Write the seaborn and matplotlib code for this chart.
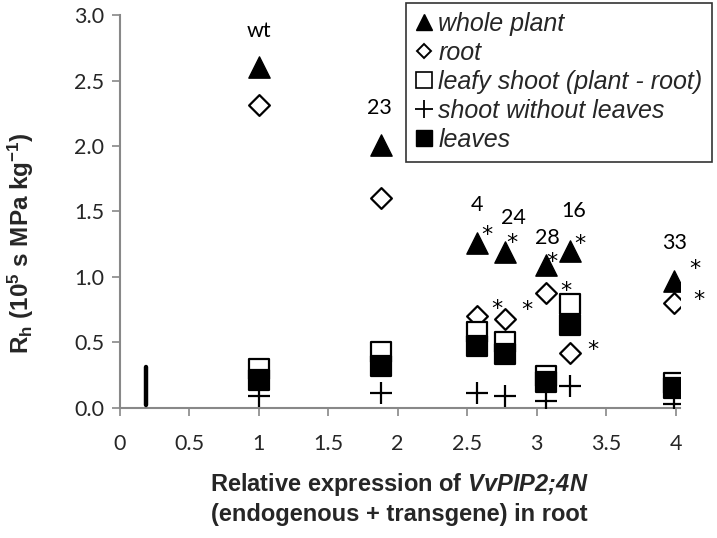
import numpy as np
import pandas as pd
import seaborn as sns
import matplotlib
matplotlib.use('Agg')
import matplotlib.pyplot as plt
from matplotlib.lines import Line2D

# %% data
lines = ['wt', '23', '4', '24', '28', '16', '33']
expr = [1.0, 1.88, 2.57, 2.77, 3.07, 3.24, 3.99]
whole_plant = [2.60, 2.01, 1.26, 1.19, 1.09, 1.20, 0.97]
root = [2.31, 1.60, 0.70, 0.68, 0.88, 0.42, 0.80]
leafy_shoot = [0.30, 0.43, 0.58, 0.50, 0.24, 0.79, 0.19]
shoot_no_leaves = [0.09, 0.11, 0.11, 0.09, 0.05, 0.17, 0.03]
leaves = [0.21, 0.32, 0.47, 0.41, 0.20, 0.63, 0.15]

# line-name labels above the triangles
label_x = [1.0, 1.87, 2.57, 2.83, 3.08, 3.27, 3.99]
label_y = [2.88, 2.29, 1.55, 1.45, 1.30, 1.50, 1.26]

# significance asterisks
star_x = [2.645, 2.825, 3.11, 3.31, 4.137, 2.717, 2.933, 3.214, 3.402, 4.166]
star_y = [1.374, 1.313, 1.17, 1.305, 1.115, 0.809, 0.802, 0.947, 0.496, 0.878]

# thick vertical bar near the origin
bar_x = 0.19
bar_lo, bar_hi = 0.02, 0.31

df = pd.DataFrame({'expr': expr, 'whole plant': whole_plant, 'root': root,
                   'leafy shoot': leafy_shoot, 'shoot without leaves': shoot_no_leaves,
                   'leaves': leaves})

# %% plot
sns.set_theme(style='ticks')
plt.rcParams['font.family'] = ['Lato', 'DejaVu Sans']
plt.rcParams['mathtext.fontset'] = 'custom'
plt.rcParams['mathtext.rm'] = 'Liberation Sans'
plt.rcParams['mathtext.bf'] = 'Liberation Sans:bold'
plt.rcParams['mathtext.it'] = 'Liberation Sans:italic'
plt.rcParams['mathtext.bfit'] = 'Liberation Sans:bold:italic'

fig = plt.figure(figsize=(7.17, 5.38), dpi=100)
ax = fig.add_axes([0.167, 0.242, 0.781, 0.730])

sns.scatterplot(data=df, x='expr', y='whole plant', marker='^', s=235, color='black',
                edgecolor='black', linewidth=1, ax=ax, zorder=3)
sns.scatterplot(data=df, x='expr', y='root', marker='D', s=112, color='white',
                edgecolor='black', linewidth=1.6, ax=ax, zorder=3)
sns.scatterplot(data=df, x='expr', y='leafy shoot', marker='s', s=200, color='white',
                edgecolor='black', linewidth=1.6, ax=ax, zorder=3)
sns.scatterplot(data=df, x='expr', y='leaves', marker='s', s=200, color='black',
                edgecolor='black', linewidth=1.6, ax=ax, zorder=4)
sns.scatterplot(data=df, x='expr', y='shoot without leaves', marker='+', s=230, color='black',
                linewidth=1.6, ax=ax, zorder=4)

ax.vlines(bar_x, bar_lo, bar_hi, color='black', linewidth=3.2, capstyle='round', zorder=4)

for lab, lx, ly in zip(lines, label_x, label_y):
    ax.text(lx, ly, lab, ha='center', va='center', fontsize=15.5, color='black')
for sx, sy in zip(star_x, star_y):
    ax.annotate('*', (sx, sy), xytext=(0, -9.5), textcoords='offset points',
                ha='center', va='baseline', fontsize=16, family='DejaVu Sans', color='black',
                annotation_clip=False)

ax.set_xlim(0, 4.03)
ax.set_ylim(0, 3.0)
ax.set_xticks([0, 0.5, 1, 1.5, 2, 2.5, 3, 3.5, 4])
ax.set_xticklabels(['0', '0.5', '1', '1.5', '2', '2.5', '3', '3.5', '4'])
ax.set_yticks([0, 0.5, 1.0, 1.5, 2.0, 2.5, 3.0])
ax.set_yticklabels(['0.0', '0.5', '1.0', '1.5', '2.0', '2.5', '3.0'])
ax.tick_params(axis='both', labelsize=15.5, color='#888888', length=6, width=1.2)
ax.tick_params(axis='x', pad=13)
ax.tick_params(axis='y', pad=5)
sns.despine(ax=ax)
for side in ['left', 'bottom']:
    ax.spines[side].set_color('#888888')
    ax.spines[side].set_linewidth(1.5)

ax.set_xlabel('Relative expression of $\\mathbfit{VvPIP2;\\!4N}$\n(endogenous + transgene) in root',
              fontsize=17, fontweight='bold', family='Liberation Sans', labelpad=12, linespacing=1.3)
ax.set_ylabel('$\\mathbf{R_h\\ (10^5\\ s\\ MPa\\ kg^{-1})}$', fontsize=17.5)
ax.yaxis.set_label_coords(-0.15, 0.42)

handles = [
    Line2D([], [], linestyle='none', marker='^', markersize=12, color='black'),
    Line2D([], [], linestyle='none', marker='D', markersize=7.5, markerfacecolor='white',
           markeredgecolor='black', markeredgewidth=1.4),
    Line2D([], [], linestyle='none', marker='s', markersize=11, markerfacecolor='white',
           markeredgecolor='black', markeredgewidth=1.2),
    Line2D([], [], linestyle='none', marker='+', markersize=13, color='black', markeredgewidth=1.3),
    Line2D([], [], linestyle='none', marker='s', markersize=11, color='black'),
]
names = ['whole plant', 'root', 'leafy shoot (plant - root)', 'shoot without leaves', 'leaves']
leg = fig.legend(handles, names, loc='upper right', bbox_to_anchor=(0.993, 0.995),
                 frameon=True, fancybox=False, edgecolor='#333333', framealpha=1,
                 prop={'family': 'Liberation Sans', 'style': 'italic', 'size': 18},
                 handlelength=0.7, handletextpad=0.2, borderpad=0.38, labelspacing=0.2,
                 borderaxespad=0)
leg.get_frame().set_linewidth(1.2)

fig.savefig('out.png', dpi=100)
